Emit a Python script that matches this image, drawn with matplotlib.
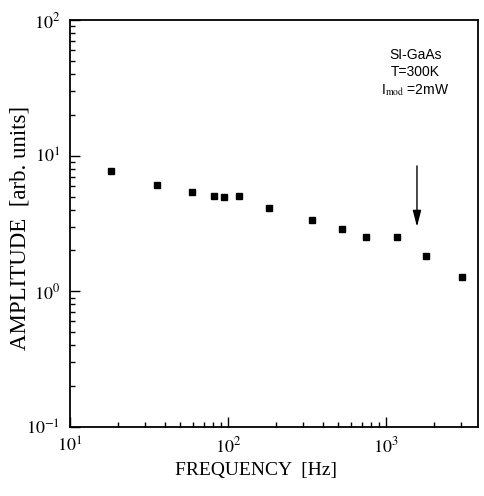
import matplotlib
matplotlib.use("Agg")
import matplotlib.pyplot as plt
from matplotlib.ticker import LogLocator, FixedLocator, NullFormatter

plt.rcParams['font.family'] = ['Liberation Serif', 'DejaVu Serif']
plt.rcParams['mathtext.fontset'] = 'stix'

# Data
freq_hz = [18.3, 35.5, 59.2, 81.8, 94.4, 118, 181.5, 341, 528, 746, 1170, 1790, 3040]
amplitude = [7.7, 6.1, 5.4, 5.05, 5.0, 5.05, 4.1, 3.35, 2.9, 2.5, 2.5, 1.83, 1.27]
arrow_freq = 1570
arrow_top = 8.4
arrow_tip = 2.99
x_ticks = [10, 100, 1000]
x_ticklabels = [r'$10^{1}$', r'$10^{2}$', r'$10^{3}$']
y_ticks = [0.1, 1, 10, 100]
y_ticklabels = [r'$10^{-1}$', r'$10^{0}$', r'$10^{1}$', r'$10^{2}$']
annotation_lines = ['SI-GaAs', 'T=300K', r'I$_{\rm mod}$ =2mW']

fig = plt.figure(figsize=(4.84, 4.96), dpi=100)
ax = fig.add_axes([70/484, 1-427/496, (478-70)/484, (427-20)/496])

ax.set_xscale('log')
ax.set_yscale('log')
ax.plot(freq_hz, amplitude, linestyle='none', marker='s', markersize=4,
        color='black')

ax.set_xlim(10, 3820)
ax.set_ylim(0.1, 100)

ax.xaxis.set_major_locator(FixedLocator(x_ticks))
ax.set_xticklabels(x_ticklabels)
ax.yaxis.set_major_locator(FixedLocator(y_ticks))
ax.set_yticklabels(y_ticklabels)
ax.xaxis.set_minor_locator(LogLocator(base=10, subs=range(2, 10), numticks=20))
ax.yaxis.set_minor_locator(LogLocator(base=10, subs=range(2, 10), numticks=20))
ax.xaxis.set_minor_formatter(NullFormatter())
ax.yaxis.set_minor_formatter(NullFormatter())

ax.tick_params(which='both', direction='in', top=False, right=False,
               labelsize=13, width=1.0)
ax.tick_params(which='major', length=7, pad=7)
ax.tick_params(which='minor', length=3.5)
for sp in ax.spines.values():
    sp.set_linewidth(1.3)

ax.set_xlabel('FREQUENCY  [Hz]', fontsize=14)
ax.xaxis.set_label_coords(0.456, -0.085)
ax.set_ylabel('AMPLITUDE  [arb. units]', fontsize=16.5)
ax.yaxis.set_label_coords(-0.123, 0.49)
ax.yaxis.label.set_verticalalignment('center')

ax.annotate('', xy=(arrow_freq, arrow_tip), xytext=(arrow_freq, arrow_top),
            arrowprops=dict(arrowstyle='-|>,head_length=0.7,head_width=0.18',
                            lw=1.0, color='black', shrinkA=0, shrinkB=0,
                            mutation_scale=14))

text_y = [0.914, 0.872, 0.828]
for line, ty in zip(annotation_lines, text_y):
    ax.text(0.846, ty, line, transform=ax.transAxes,
            ha='center', va='center', fontsize=10,
            family=['Liberation Sans', 'DejaVu Sans'])

fig.savefig('out.png', dpi=100)
